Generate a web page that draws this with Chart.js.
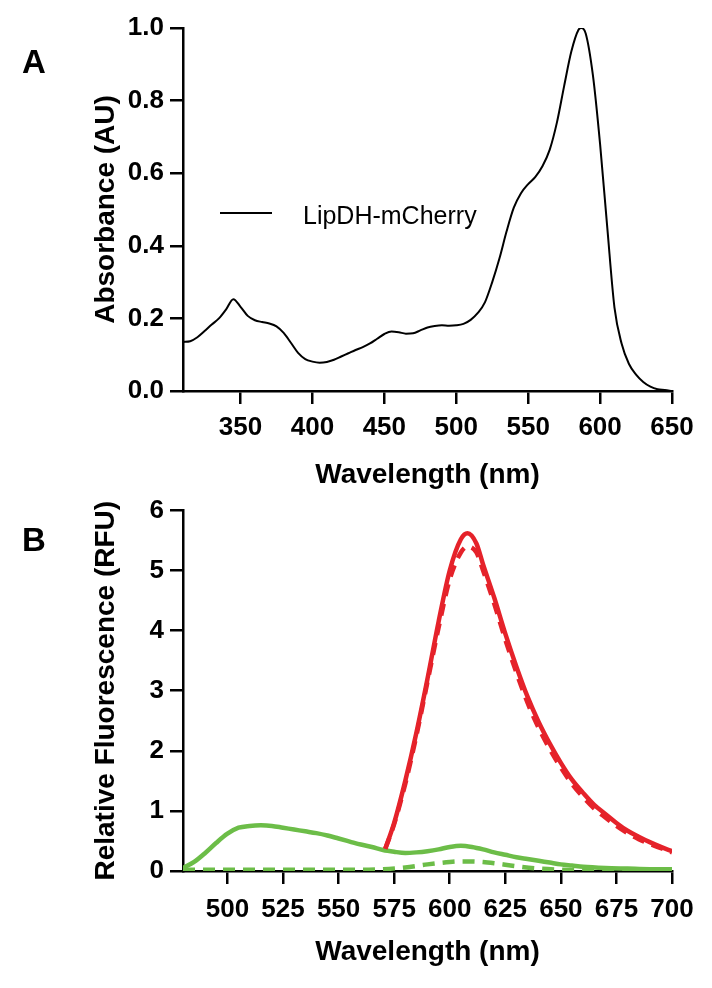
<!DOCTYPE html>
<html>
<head>
<meta charset="utf-8">
<script src="https://cdn.jsdelivr.net/npm/chart.js@4.4.1/dist/chart.umd.min.js"></script>
<style>
    html, body { margin: 0; padding: 0; background: #ffffff; }
    body { width: 712px; height: 988px; position: relative; overflow: hidden; font-family: 'Liberation Sans', Arial, sans-serif; }
    canvas { position: absolute; left: 0; }
    #chartA { top: 0; }
    #chartB { top: 494px; }
    .letter { position: absolute; left: 22px; font-size: 33px; line-height: 33px; font-weight: bold; color: #000; }
    #legendLine { position: absolute; left: 220px; top: 212px; width: 52px; height: 2px; background: #000; }
    #legendText { position: absolute; left: 303px; top: 203px; font-size: 25px; line-height: 25px; color: #000; }
</style>
</head>
<body>
<canvas id="chartA" width="712" height="494"></canvas>
<canvas id="chartB" width="712" height="494"></canvas>
<div class="letter" style="top: 45px;">A</div>
<div class="letter" style="top: 523px;">B</div>
<div id="legendLine"></div>
<div id="legendText">LipDH-mCherry</div>
<script>
// Panel A: absorbance spectrum
const absWavelength = [310, 315, 320, 325, 330, 335, 340, 345, 350, 355, 360, 365, 370, 375, 380, 385, 390, 395,
    400, 405, 410, 415, 420, 425, 430, 435, 440, 445, 450, 455, 460, 465, 470, 475, 480, 485, 490, 495,
    500, 505, 510, 515, 520, 525, 530, 535, 540, 545, 550, 555, 560, 565, 570, 575, 580, 585, 587, 590, 595,
    600, 605, 610, 615, 620, 625, 630, 635, 640, 645, 650];
const absValue = [0.135, 0.137, 0.148, 0.165, 0.183, 0.200, 0.225, 0.253, 0.232, 0.207, 0.195, 0.190, 0.186, 0.178, 0.160, 0.133, 0.105, 0.088,
    0.081, 0.078, 0.080, 0.086, 0.095, 0.104, 0.113, 0.121, 0.131, 0.144, 0.157, 0.164, 0.162, 0.158, 0.159, 0.167, 0.175, 0.179, 0.181, 0.180,
    0.181, 0.185, 0.196, 0.215, 0.245, 0.300, 0.365, 0.440, 0.505, 0.545, 0.570, 0.590, 0.620, 0.665, 0.740, 0.840, 0.935, 0.995, 1.000, 0.985, 0.870,
    0.680, 0.450, 0.230, 0.130, 0.075, 0.045, 0.025, 0.012, 0.005, 0.003, 0.000];
const absTicksX = [350, 400, 450, 500, 550, 600, 650];
const absTicksY = [0, 0.2, 0.4, 0.6, 0.8, 1.0];

// Panel B: fluorescence spectra
const redWavelength = [571, 575, 580, 585, 590, 595, 600, 605, 608, 612, 615, 620, 625, 630, 635, 640, 645,
    650, 655, 660, 665, 670, 675, 680, 685, 690, 695, 700];
const redSolid = [0.37, 0.80, 1.50, 2.30, 3.20, 4.15, 5.00, 5.52, 5.62, 5.45, 5.10, 4.55, 3.95, 3.40, 2.90, 2.48, 2.12,
    1.80, 1.52, 1.30, 1.10, 0.95, 0.80, 0.67, 0.57, 0.48, 0.40, 0.33];
const redDashed = [0.37, 0.78, 1.45, 2.25, 3.15, 4.05, 4.85, 5.30, 5.40, 5.30, 5.00, 4.45, 3.85, 3.30, 2.80, 2.38, 2.03,
    1.72, 1.45, 1.23, 1.04, 0.89, 0.75, 0.63, 0.53, 0.45, 0.38, 0.31];

const greenSolidWavelength = [480, 485, 490, 495, 500, 505, 510, 515, 520, 525, 530, 535, 540, 545, 550, 555, 560, 565,
    570, 575, 580, 585, 590, 595, 600, 605, 610, 615, 620, 625, 630, 635, 640, 645, 650, 655, 660, 670, 680, 690, 700];
const greenSolid = [0.05, 0.15, 0.30, 0.47, 0.62, 0.72, 0.75, 0.76, 0.75, 0.72, 0.69, 0.66, 0.63, 0.59, 0.54, 0.49, 0.44, 0.40,
    0.35, 0.32, 0.30, 0.31, 0.33, 0.36, 0.40, 0.42, 0.40, 0.36, 0.31, 0.27, 0.23, 0.20, 0.17, 0.14, 0.11, 0.09, 0.07, 0.05, 0.04, 0.03, 0.03];

const greenDashedWavelength = [480, 500, 520, 540, 560, 570, 580, 590, 600, 605, 610, 615, 620, 630, 640, 650, 660, 680, 700];
const greenDashed = [0.02, 0.02, 0.02, 0.02, 0.02, 0.03, 0.06, 0.11, 0.15, 0.16, 0.16, 0.15, 0.13, 0.08, 0.04, 0.02, 0.01, 0.01, 0.01];

const fluoTicksX = [500, 525, 550, 575, 600, 625, 650, 675, 700];
const fluoTicksY = [0, 1, 2, 3, 4, 5, 6];

const red = '#e5222a';
const green = '#6cbd48';
const black = '#000000';
const fontFamily = "'Liberation Sans', Arial, sans-serif";
const tickFont = { family: fontFamily, size: 26, weight: 'bold', lineHeight: 0.8 };
const xTickFont = { family: fontFamily, size: 26, weight: 'bold', lineHeight: 1.2 };
const titleFont = { family: fontFamily, size: 28, weight: 'bold', lineHeight: 1.2 };

function toPoints(xs, ys) {
    return xs.map((x, i) => ({ x: x, y: ys[i] }));
}

// put the ticks exactly where the figure has them
function fixedTicks(values) {
    return function (scale) {
        scale.ticks = values.map(v => ({ value: v }));
    };
}

const axisGrid = { drawOnChartArea: false, drawTicks: true, tickLength: 13, color: black, lineWidth: 2.5 };
const axisBorder = { color: black, width: 2.5 };

// Chart A
new Chart(document.getElementById('chartA'), {
    type: 'line',
    data: {
        datasets: [{
            label: 'LipDH-mCherry',
            data: toPoints(absWavelength, absValue),
            borderColor: black,
            borderWidth: 2,
            pointRadius: 0,
            fill: false,
            cubicInterpolationMode: 'monotone'
        }]
    },
    options: {
        responsive: false,
        animation: false,
        layout: { padding: { left: 89, top: 28, right: 40, bottom: 0 } },
        plugins: { legend: { display: false }, tooltip: { enabled: false } },
        scales: {
            x: {
                type: 'linear',
                min: 310,
                max: 650,
                afterBuildTicks: fixedTicks(absTicksX),
                afterFit: s => { s.height = 103; },
                ticks: { autoSkip: false, maxRotation: 0, font: xTickFont, color: black, padding: 8 },
                grid: axisGrid,
                border: axisBorder,
                title: { display: true, text: 'Wavelength (nm)', font: titleFont, color: black, padding: { top: 0, bottom: 2 } }
            },
            y: {
                min: 0,
                max: 1,
                afterBuildTicks: fixedTicks(absTicksY),
                afterFit: s => { s.width = 94; },
                ticks: { callback: v => v.toFixed(1), font: tickFont, color: black, padding: 6 },
                grid: axisGrid,
                border: axisBorder,
                title: { display: true, text: 'Absorbance (AU)', font: titleFont, color: black, padding: 0 }
            }
        }
    }
});

// Chart B
new Chart(document.getElementById('chartB'), {
    type: 'line',
    data: {
        datasets: [{
            label: 'red solid',
            data: toPoints(redWavelength, redSolid),
            borderColor: red,
            borderWidth: 4.5,
            pointRadius: 0,
            cubicInterpolationMode: 'monotone'
        }, {
            label: 'red dashed',
            data: toPoints(redWavelength, redDashed),
            borderColor: red,
            borderWidth: 4.5,
            borderDash: [12, 8],
            pointRadius: 0,
            cubicInterpolationMode: 'monotone'
        }, {
            label: 'green solid',
            data: toPoints(greenSolidWavelength, greenSolid),
            borderColor: green,
            borderWidth: 4.5,
            pointRadius: 0,
            cubicInterpolationMode: 'monotone'
        }, {
            label: 'green dashed',
            data: toPoints(greenDashedWavelength, greenDashed),
            borderColor: green,
            borderWidth: 4.5,
            borderDash: [12, 8],
            pointRadius: 0,
            cubicInterpolationMode: 'monotone'
        }]
    },
    options: {
        responsive: false,
        animation: false,
        layout: { padding: { left: 89, top: 11, right: 40, bottom: 0 } },
        plugins: { legend: { display: false }, tooltip: { enabled: false } },
        scales: {
            x: {
                type: 'linear',
                min: 480,
                max: 700,
                afterBuildTicks: fixedTicks(fluoTicksX),
                afterFit: s => { s.height = 117; },
                ticks: { autoSkip: false, maxRotation: 0, font: xTickFont, color: black, padding: 10 },
                grid: axisGrid,
                border: axisBorder,
                title: { display: true, text: 'Wavelength (nm)', font: titleFont, color: black, padding: { top: 0, bottom: 19 } }
            },
            y: {
                min: 0,
                max: 6,
                afterBuildTicks: fixedTicks(fluoTicksY),
                afterFit: s => { s.width = 94; },
                ticks: { font: tickFont, color: black, padding: 6 },
                grid: axisGrid,
                border: axisBorder,
                title: { display: true, text: 'Relative Fluorescence (RFU)', font: titleFont, color: black, padding: 0 }
            }
        }
    }
});
</script>
</body>
</html>
